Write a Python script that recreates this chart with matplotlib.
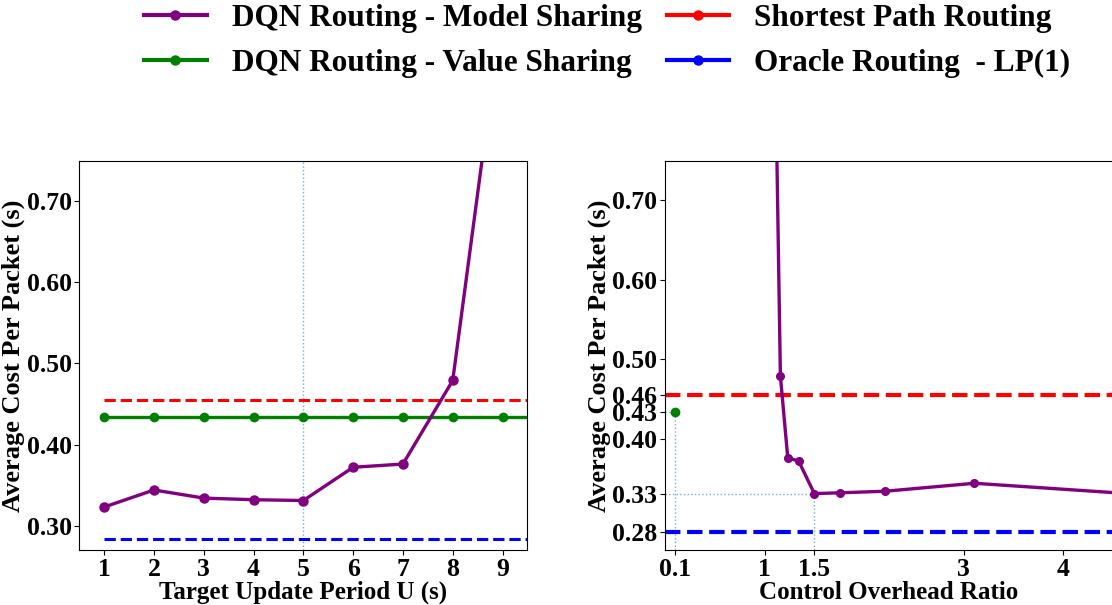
import numpy as np
import matplotlib
matplotlib.use('Agg')
import matplotlib.pyplot as plt
from matplotlib.lines import Line2D
from matplotlib.ticker import FormatStrFormatter

# target update period U and the matching cost of DQN model sharing
u_period = [1, 2, 3, 4, 5, 6, 7, 8, 9]
model_cost = [0.323, 0.344, 0.334, 0.332, 0.331, 0.372, 0.376, 0.479, 0.94]

# control overhead ratio reached with each U (same runs as above)
overhead_ratio = [5.6, 3.107, 2.214, 1.762, 1.50, 1.342, 1.233, 1.159, 1.10]

# baselines
u_baseline = [1, 2, 3, 4, 5, 6, 7, 8, 9, 10]
value_sharing_cost = 0.434
value_sharing_ratio = 0.1
shortest_path_cost = 0.455
oracle_cost = 0.283

chosen_u = 5
chosen_ratio = 1.5
chosen_cost = 0.331

left_yticks = [0.30, 0.40, 0.50, 0.60, 0.70]
right_yticks = [oracle_cost, chosen_cost, 0.40, value_sharing_cost,
                shortest_path_cost, 0.50, 0.60, 0.70]
right_xticks = [0.1, 1, 1.5, 3, 4]
right_xlabels = ['0.1', '1', '1.5', '3', '4']

plt.rcParams['font.family'] = ['Liberation Serif', 'DejaVu Serif']
plt.rcParams['font.weight'] = 'bold'
plt.rcParams['axes.labelweight'] = 'bold'

fig = plt.figure(figsize=(11.12, 6.05), dpi=100, facecolor='white')
ax1 = fig.add_axes([0.0713, 0.0909, 0.403, 0.6435])
ax2 = fig.add_axes([0.598, 0.0909, 0.403, 0.6435])

guide = dict(color='C0', alpha=0.6, lw=1, ls=':')

# left: cost vs target update period
ax1.axvline(chosen_u, **guide)
ax1.plot(u_baseline, [shortest_path_cost] * len(u_baseline), '--', color='red', lw=2.2)
ax1.plot(u_baseline, [value_sharing_cost] * len(u_baseline), '-o', color='green',
         lw=2.4, ms=6)
ax1.plot(u_baseline, [oracle_cost] * len(u_baseline), '--', color='blue', lw=2.2)
ax1.plot(u_period, model_cost, '-o', color='purple', lw=2.4, ms=6.5)

ax1.set_xlim(0.5, 9.5)
ax1.set_ylim(0.27, 0.75)
ax1.set_xticks(u_period)
ax1.set_yticks(left_yticks)
ax1.yaxis.set_major_formatter(FormatStrFormatter('%.2f'))
ax1.set_xlabel('Target Update Period U (s)', fontsize=18, labelpad=0)
ax1.set_ylabel('Average Cost Per Packet (s)', fontsize=19, labelpad=1)
ax1.tick_params(labelsize=18.5, pad=2)

# right: cost vs control overhead ratio
ax2.vlines(value_sharing_ratio, 0.26, value_sharing_cost, **guide)
ax2.hlines(value_sharing_cost, 0, value_sharing_ratio, **guide)
ax2.vlines(chosen_ratio, 0.26, chosen_cost, **guide)
ax2.hlines(chosen_cost, 0, chosen_ratio, **guide)
ax2.axhline(shortest_path_cost, ls='--', color='red', lw=3)
ax2.axhline(oracle_cost, ls='--', color='blue', lw=3)
ax2.plot(overhead_ratio, model_cost, '-o', color='purple', lw=2.4, ms=5.5)
ax2.plot([value_sharing_ratio], [value_sharing_cost], 'o', color='green', ms=6)

ax2.set_xlim(0, 4.5)
ax2.set_ylim(0.26, 0.75)
ax2.set_xticks(right_xticks)
ax2.set_xticklabels(right_xlabels)
ax2.set_yticks(right_yticks)
ax2.yaxis.set_major_formatter(FormatStrFormatter('%.2f'))
ax2.set_xlabel('Control Overhead Ratio', fontsize=18, labelpad=0)
ax2.set_ylabel('Average Cost Per Packet (s)', fontsize=19, labelpad=1)
ax2.tick_params(labelsize=18.5, pad=2)

handles = [
    Line2D([], [], color='purple', lw=3, marker='o', ms=6.5),
    Line2D([], [], color='green', lw=3, marker='o', ms=6.5),
    Line2D([], [], color='red', lw=3, marker='o', ms=6.5),
    Line2D([], [], color='blue', lw=3, marker='o', ms=6.5),
]
labels = ['DQN Routing - Model Sharing', 'DQN Routing - Value Sharing',
          'Shortest Path Routing', 'Oracle Routing  - LP(1)']
fig.legend(handles, labels, loc='upper center', bbox_to_anchor=(0.546, 1.04),
           ncol=2, frameon=False, fontsize=22.5, columnspacing=0.8,
           labelspacing=0.5, handletextpad=0.8)

fig.savefig('out.png', dpi=100, facecolor='white')
